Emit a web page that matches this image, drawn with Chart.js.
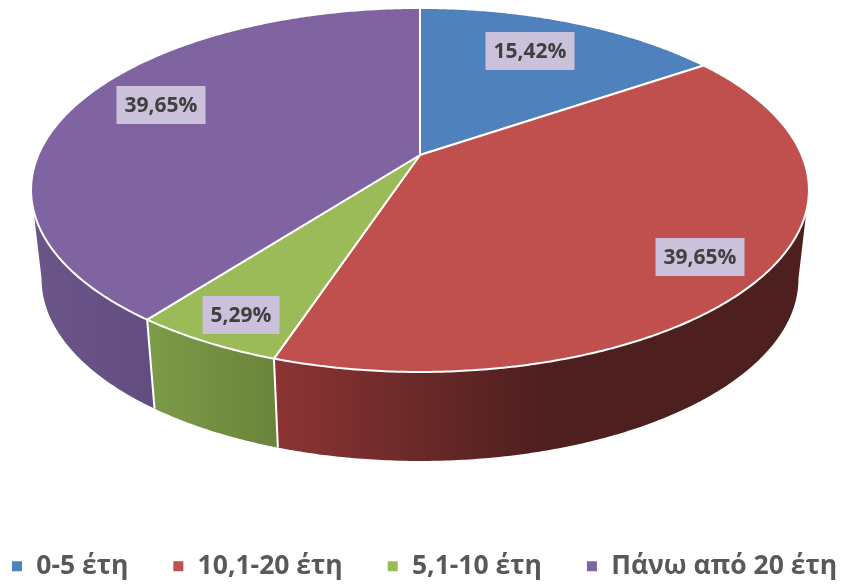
<!DOCTYPE html>
<html><head><meta charset="utf-8">
<style>html,body{margin:0;padding:0;background:#fff}canvas{display:block}</style>
<script src="https://cdn.jsdelivr.net/npm/chart.js@4"></script>
</head><body>
<canvas id="c" width="843" height="584"></canvas>
<script>
const categories = ['0-5 έτη', '10,1-20 έτη', '5,1-10 έτη', 'Πάνω από 20 έτη'];
const shares = [15.42, 39.65, 5.29, 39.65];
const topColors = ['#4f81bd', '#c0504d', '#9bbb59', '#8064a2'];

const wallStops = [
  [[0, '#3a5f8c'], [1, '#3a5f8c']],
  [[0, '#8c3434'], [0.5, '#4f1f1f'], [1, '#4e1f1f']],
  [[0, '#7c9c48'], [1, '#6a843b']],
  [[0, '#6c5589'], [1, '#634c80']]
];
const labelCentres = [[530, 51], [700, 257], [241, 315], [161, 105]];
const labelWidths = [89, 89, 77, 89];

const P = {cx: 420, cy: 155, a: 175.3, b: 381.7, k: -0.192, depth: 89, shrink: 0.973};
function rim(t) {
  const X = Math.sin(t), Y = -Math.cos(t), w = 1 + P.k * Y;
  return [P.cx + P.b * X / w, P.cy + P.a * Y / w];
}
function low(t) {
  const p = rim(t);
  return [P.cx + (p[0] - P.cx) * P.shrink, p[1] + P.depth];
}
const deg = Math.PI / 180, wallFrom = 101 * deg, wallTo = 259 * deg;

const pie3d = {
  id: 'pie3d',
  beforeDatasetsDraw(chart) {
    const ctx = chart.ctx, arcs = chart.getDatasetMeta(0).data;
    const spans = arcs.map(e => [e.startAngle + Math.PI / 2, e.endAngle + Math.PI / 2]);
    ctx.save();
    spans.forEach(([s, e], i) => {
      const a = Math.max(s, wallFrom), z = Math.min(e, wallTo);
      if (z <= a) return;
      const n = Math.ceil((z - a) / (0.5 * deg));
      ctx.beginPath();
      let xs = [];
      for (let j = 0; j <= n; j++) {
        const p = rim(a + (z - a) * j / n);
        xs.push(p[0]);
        j ? ctx.lineTo(p[0], p[1]) : ctx.moveTo(p[0], p[1]);
      }
      for (let j = n; j >= 0; j--) {
        const p = low(a + (z - a) * j / n);
        xs.push(p[0]);
        ctx.lineTo(p[0], p[1]);
      }
      ctx.closePath();
      const g = ctx.createLinearGradient(Math.min(...xs), 0, Math.max(...xs), 0);
      wallStops[i].forEach(st => g.addColorStop(st[0], st[1]));
      ctx.fillStyle = g;
      ctx.fill();
    });
    ctx.strokeStyle = '#ffffff';
    ctx.lineWidth = 2;
    spans.forEach(([s]) => {
      if (s > wallFrom && s < wallTo) {
        const p = rim(s), q = low(s);
        ctx.beginPath(); ctx.moveTo(p[0], p[1]); ctx.lineTo(q[0], q[1]); ctx.stroke();
      }
    });
    ctx.lineJoin = 'round';
    spans.forEach(([s, e], i) => {
      const n = Math.ceil((e - s) / (0.5 * deg));
      ctx.beginPath();
      ctx.moveTo(P.cx, P.cy);
      for (let j = 0; j <= n; j++) {
        const p = rim(s + (e - s) * j / n);
        ctx.lineTo(p[0], p[1]);
      }
      ctx.closePath();
      ctx.fillStyle = topColors[i];
      ctx.fill();
      ctx.stroke();
    });
    ctx.restore();
    return false;
  },
  beforeDraw(chart) {
    // the library wraps a legend this wide, so it is fitted with tight gaps and spread out here
    const l = chart.legend, gap = 44;
    const labels = Object.create(l.options.labels);
    labels.padding = gap;
    const o = Object.create(l.options);
    Object.defineProperty(o, 'labels', {value: labels});
    Object.defineProperty(o, 'align', {value: 'start'});
    l.options = o;
    l.left = 11 - gap;
    l.right = 900;
    l.top = 567 - gap - 14;
    l.bottom = 584;
  },
  afterDraw(chart) {
    const ctx = chart.ctx;
    ctx.save();
    ctx.font = 'bold 21px "Open Sans"';
    ctx.textAlign = 'center';
    ctx.textBaseline = 'middle';
    shares.forEach((v, i) => {
      const [x, y] = labelCentres[i], w = labelWidths[i];
      ctx.fillStyle = '#ccc1da';
      ctx.fillRect(x - w / 2, y - 19, w, 38);
      ctx.fillStyle = '#404040';
      ctx.fillText(v.toFixed(2).replace('.', ',') + '%', x, y + 1);
    });
    ctx.restore();
  }
};

new Chart(document.getElementById('c'), {
  type: 'pie',
  data: {labels: categories, datasets: [{data: shares, backgroundColor: topColors, borderColor: '#ffffff', borderWidth: 2}]},
  options: {
    responsive: false,
    animation: false,
    plugins: {
      tooltip: {enabled: false},
      legend: {
        position: 'bottom',
        labels: {
          boxWidth: 12, boxHeight: 12, padding: 28, color: '#595959',
          font: {family: '"Open Sans"', size: 26.5, weight: 'bold'}
        }
      }
    }
  },
  plugins: [pie3d]
});
</script>
</body></html>
